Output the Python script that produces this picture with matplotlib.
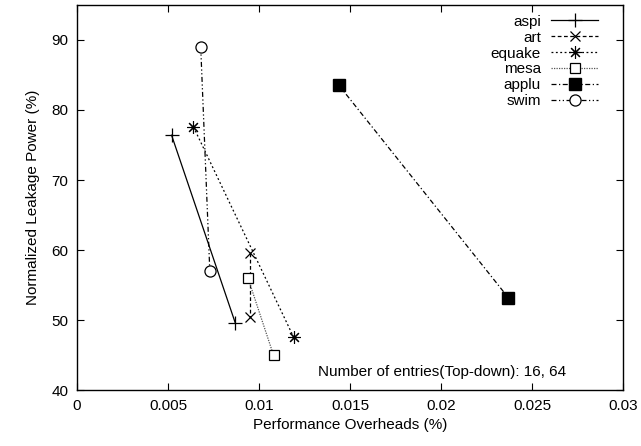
import matplotlib
matplotlib.use("Agg")
import matplotlib.pyplot as plt
from matplotlib.ticker import FuncFormatter

plt.rcParams['font.family'] = ['Liberation Sans', 'DejaVu Sans']

# Per-benchmark results: (performance overhead, normalized leakage power)
aspi_x = [0.0052, 0.0087]
aspi_y = [76.4, 49.6]
art_x = [0.0095, 0.0095]
art_y = [59.6, 50.5]
equake_x = [0.0064, 0.0119]
equake_y = [77.6, 47.6]
mesa_x = [0.0094, 0.0108]
mesa_y = [56.0, 45.0]
applu_x = [0.0144, 0.0237]
applu_y = [83.5, 53.2]
swim_x = [0.0068, 0.0073]
swim_y = [89.0, 57.0]

x_ticks = [0, 0.005, 0.01, 0.015, 0.02, 0.025, 0.03]
y_ticks = [40, 50, 60, 70, 80, 90]

fig = plt.figure(figsize=(6.41, 4.46), dpi=100)
ax = fig.add_axes([0.12, 0.125, 0.852, 0.864])

lw = 0.9
ms = 7.5
ax.plot(aspi_x, aspi_y, color='black', linestyle='-', linewidth=lw,
        marker='+', markersize=ms + 2, markeredgewidth=0.9, label='aspi')
ax.plot(art_x, art_y, color='black', linestyle=(0, (3, 2)), linewidth=lw,
        marker='x', markersize=ms, markeredgewidth=0.9, label='art')
ax.plot(equake_x, equake_y, color='black', linestyle=(0, (1.5, 2)), linewidth=lw,
        marker=(8, 2, 0), markersize=ms + 1.5, markeredgewidth=0.8, label='equake')
ax.plot(mesa_x, mesa_y, color='#555555', linestyle=(0, (1, 1)), linewidth=lw,
        marker='s', markersize=ms, markerfacecolor='white', markeredgecolor='black',
        markeredgewidth=0.9, label='mesa')
ax.plot(applu_x, applu_y, color='black', linestyle=(0, (4, 2, 1, 2)), linewidth=lw,
        marker='s', markersize=ms + 0.5, markerfacecolor='black', markeredgecolor='black',
        label='applu')
ax.plot(swim_x, swim_y, color='black', linestyle=(0, (4, 2, 1, 2, 1, 2)), linewidth=lw,
        marker='o', markersize=ms + 0.5, markerfacecolor='white', markeredgecolor='black',
        markeredgewidth=0.9, label='swim')

ax.set_xlim(0, 0.03)
ax.set_ylim(40, 95)
ax.set_xticks(x_ticks)
ax.set_yticks(y_ticks)
ax.xaxis.set_major_formatter(FuncFormatter(lambda v, p: '%g' % v))
ax.tick_params(direction='in', top=True, right=True, length=5, width=0.8,
               labelsize=11, pad=6)
for s in ax.spines.values():
    s.set_linewidth(1.0)

ax.set_xlabel('Performance Overheads (%)', fontsize=11, labelpad=4)
ax.set_ylabel('Normalized Leakage Power (%)', fontsize=11, labelpad=8)

ax.text(0.01325, 42.6, 'Number of entries(Top-down): 16, 64', fontsize=11,
        ha='left', va='center')

leg = ax.legend(loc='upper right', bbox_to_anchor=(0.973, 1.0),
                markerfirst=False, frameon=False,
                fontsize=11, handlelength=3.1, handletextpad=0.65,
                labelspacing=0.12, borderaxespad=0.25)

fig.savefig('out.png', dpi=100)
